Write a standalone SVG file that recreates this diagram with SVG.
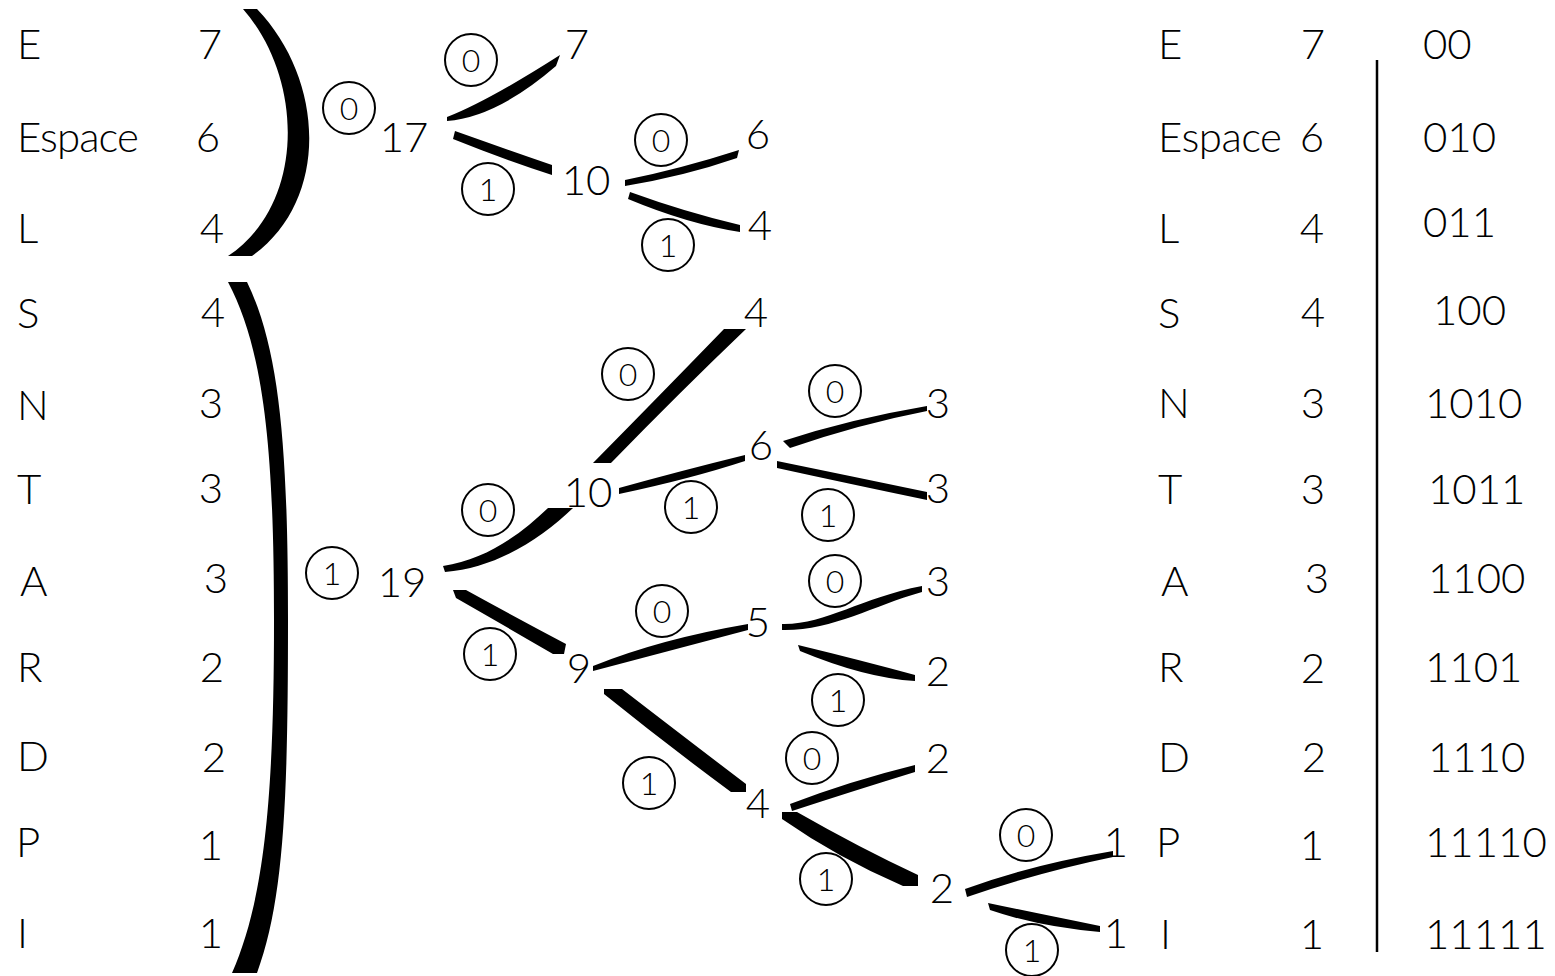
<svg xmlns="http://www.w3.org/2000/svg" width="1555" height="976" viewBox="0 0 1555 976">
  <style>
    text { font-family: "Lato", "Liberation Sans", sans-serif; font-weight: 300; fill: #000; }
    .t { font-size: 42px; }
    .n { font-size: 42px; text-anchor: middle; }
    .bit circle { fill: none; stroke: #000; stroke-width: 2; }
    .bit text { font-size: 32px; text-anchor: middle; }
    .edge { fill: #000; stroke: none; }
    .brace { fill: #000; }
  </style>

  <rect width="1555" height="976" fill="#fff"/>

  <!-- Frequency list on the left -->
  <g id="freq-list">
    <text class="t" x="17" y="59">E</text><text class="n" x="210" y="59">7</text>
    <text class="t" x="17" y="152" textLength="122">Espace</text><text class="n" x="208" y="152">6</text>
    <text class="t" x="17" y="243">L</text><text class="n" x="212" y="243">4</text>
    <text class="t" x="17" y="328">S</text><text class="n" x="213" y="327">4</text>
    <text class="t" x="17" y="420">N</text><text class="n" x="211" y="418">3</text>
    <text class="t" x="17" y="504">T</text><text class="n" x="211" y="503">3</text>
    <text class="t" x="20" y="596">A</text><text class="n" x="216" y="593">3</text>
    <text class="t" x="17" y="682">R</text><text class="n" x="212" y="682">2</text>
    <text class="t" x="17" y="771">D</text><text class="n" x="214" y="772">2</text>
    <text class="t" x="16" y="857">P</text><text class="n" x="211" y="860">1</text>
    <text class="t" x="17" y="948">I</text><text class="n" x="211" y="948">1</text>
  </g>

  <!-- Grouping braces -->
  <g id="brace-top">
    <path class="brace" d="M243,9 L257,9 C325,80 330,200 252,256 L228,256 C305,205 305,80 243,9 Z"/>
  </g>
  <g id="brace-bottom">
    <path class="brace" d="M228,282 L247,282 C280,350 288,450 288,620 C288,800 284,900 257,973 L232,973 C264,900 274,800 274,620 C274,450 264,350 228,282 Z"/>
  </g>

  <!-- Branches of the code tree -->
  <g id="connectors">
    <path class="edge" d="M447,117 Q488,101 560,55 L556,66 Q497,117 447,121 Z"/>
    <path class="edge" d="M455,131 Q500,147 552,165 L552,175 Q500,158 453,139 Z"/>
    <path class="edge" d="M625,180 Q680,169 739,150 L737,158 Q685,176 625,186 Z"/>
    <path class="edge" d="M630,192 Q685,212 740,225 L740,232 Q688,224 628,199 Z"/>
    <path class="edge" d="M443,566 C485,560 520,535 548,508 L573,508 C540,540 495,568 445,572 Z"/>
    <path class="edge" d="M453,590 L466,590 Q515,617 566,644 L564,654 L553,654 Q505,626 456,598 Z"/>
    <path class="edge" d="M593,463 Q660,395 724,329 L746,329 Q680,392 611,463 Z"/>
    <path class="edge" d="M619,488 Q680,471 745,455 L745,461 Q690,479 619,494 Z"/>
    <path class="edge" d="M783,441 Q850,419 927,406 L927,411 Q860,424 790,448 Z"/>
    <path class="edge" d="M777,461 Q850,476 927,492 L927,500 Q850,484 777,468 Z"/>
    <path class="edge" d="M593,666 Q660,639 748,624 L748,630 Q665,652 593,671 Z"/>
    <path class="edge" d="M604,689 L622,689 Q692,743 746,784 L746,792 L731,792 Q666,744 604,694 Z"/>
    <path class="edge" d="M782,624 C825,625 860,598 922,586 L922,592 C872,606 832,631 782,630 Z"/>
    <path class="edge" d="M798,645 Q860,660 915,675 L915,681 Q865,678 800,651 Z"/>
    <path class="edge" d="M790,804 Q850,781 915,765 L915,772 Q850,792 792,811 Z"/>
    <path class="edge" d="M782,812 L797,812 Q860,848 918,875 L918,886 L903,886 Q838,858 782,819 Z"/>
    <path class="edge" d="M965,889 Q1030,865 1113,851 L1113,857 Q1040,872 967,897 Z"/>
    <path class="edge" d="M988,903 Q1040,914 1100,926 L1100,932 Q1040,927 990,910 Z"/>
  </g>

  <!-- Tree nodes (weights) -->
  <g id="node-17"><text class="n" x="404" y="152">17</text></g>
  <g id="node-7"><text class="n" x="577" y="59">7</text></g>
  <g id="node-10a"><text class="n" x="586" y="195">10</text></g>
  <g id="node-6a"><text class="n" x="758" y="149">6</text></g>
  <g id="node-4a"><text class="n" x="760" y="240">4</text></g>
  <g id="node-19"><text class="n" x="402" y="597">19</text></g>
  <g id="node-10b"><text class="n" x="588" y="507">10</text></g>
  <g id="node-4b"><text class="n" x="756" y="327">4</text></g>
  <g id="node-6b"><text class="n" x="761" y="460">6</text></g>
  <g id="node-3a"><text class="n" x="938" y="418">3</text></g>
  <g id="node-3b"><text class="n" x="938" y="503">3</text></g>
  <g id="node-9"><text class="n" x="579" y="683">9</text></g>
  <g id="node-5"><text class="n" x="758" y="637">5</text></g>
  <g id="node-3c"><text class="n" x="938" y="596">3</text></g>
  <g id="node-2a"><text class="n" x="938" y="686">2</text></g>
  <g id="node-2b"><text class="n" x="938" y="773">2</text></g>
  <g id="node-4c"><text class="n" x="758" y="818">4</text></g>
  <g id="node-2c"><text class="n" x="942" y="903">2</text></g>
  <g id="node-1a"><text class="n" x="1116" y="857">1</text></g>
  <g id="node-1b"><text class="n" x="1116" y="948">1</text></g>

  <!-- Circled branch bits -->
  <g id="bit-17" class="bit"><circle cx="349" cy="108" r="26"/><text x="349" y="120">0</text></g>
  <g id="bit-17-0" class="bit"><circle cx="471" cy="60" r="26"/><text x="471" y="72">0</text></g>
  <g id="bit-17-1" class="bit"><circle cx="488" cy="189" r="26"/><text x="488" y="201">1</text></g>
  <g id="bit-10a-0" class="bit"><circle cx="661" cy="140" r="26"/><text x="661" y="152">0</text></g>
  <g id="bit-10a-1" class="bit"><circle cx="668" cy="245" r="26"/><text x="668" y="257">1</text></g>
  <g id="bit-19" class="bit"><circle cx="332" cy="573" r="26"/><text x="332" y="585">1</text></g>
  <g id="bit-19-0" class="bit"><circle cx="488" cy="510" r="26"/><text x="488" y="522">0</text></g>
  <g id="bit-19-1" class="bit"><circle cx="490" cy="654" r="26"/><text x="490" y="666">1</text></g>
  <g id="bit-10b-0" class="bit"><circle cx="628" cy="374" r="26"/><text x="628" y="386">0</text></g>
  <g id="bit-10b-1" class="bit"><circle cx="691" cy="507" r="26"/><text x="691" y="519">1</text></g>
  <g id="bit-6-0" class="bit"><circle cx="835" cy="391" r="26"/><text x="835" y="403">0</text></g>
  <g id="bit-6-1" class="bit"><circle cx="828" cy="515" r="26"/><text x="828" y="527">1</text></g>
  <g id="bit-9-0" class="bit"><circle cx="662" cy="611" r="26"/><text x="662" y="623">0</text></g>
  <g id="bit-9-1" class="bit"><circle cx="649" cy="783" r="26"/><text x="649" y="795">1</text></g>
  <g id="bit-5-0" class="bit"><circle cx="835" cy="581" r="26"/><text x="835" y="593">0</text></g>
  <g id="bit-5-1" class="bit"><circle cx="838" cy="700" r="26"/><text x="838" y="712">1</text></g>
  <g id="bit-4-0" class="bit"><circle cx="812" cy="758" r="26"/><text x="812" y="770">0</text></g>
  <g id="bit-4-1" class="bit"><circle cx="826" cy="879" r="26"/><text x="826" y="891">1</text></g>
  <g id="bit-2-0" class="bit"><circle cx="1026" cy="835" r="26"/><text x="1026" y="847">0</text></g>
  <g id="bit-2-1" class="bit"><circle cx="1032" cy="950" r="26"/><text x="1032" y="962">1</text></g>

  <!-- Resulting code table -->
  <g id="code-table">
    <line x1="1377" y1="60" x2="1377" y2="952" stroke="#000" stroke-width="2.5"/>
    <text class="t" x="1158" y="59">E</text><text class="n" x="1313" y="59">7</text><text class="t" x="1423" y="59">00</text>
    <text class="t" x="1158" y="152" textLength="124">Espace</text><text class="n" x="1312" y="152">6</text><text class="t" x="1423" y="152">010</text>
    <text class="t" x="1158" y="243">L</text><text class="n" x="1312" y="243">4</text><text class="t" x="1423" y="237">011</text>
    <text class="t" x="1158" y="328">S</text><text class="n" x="1313" y="327">4</text><text class="t" x="1433" y="325">100</text>
    <text class="t" x="1158" y="418">N</text><text class="n" x="1313" y="418">3</text><text class="t" x="1425" y="418">1010</text>
    <text class="t" x="1158" y="504">T</text><text class="n" x="1313" y="504">3</text><text class="t" x="1428" y="504">1011</text>
    <text class="t" x="1161" y="596">A</text><text class="n" x="1317" y="593">3</text><text class="t" x="1428" y="593">1100</text>
    <text class="t" x="1158" y="682">R</text><text class="n" x="1313" y="683">2</text><text class="t" x="1425" y="682">1101</text>
    <text class="t" x="1158" y="772">D</text><text class="n" x="1314" y="772">2</text><text class="t" x="1428" y="772">1110</text>
    <text class="t" x="1156" y="857">P</text><text class="n" x="1312" y="860">1</text><text class="t" x="1425" y="857">11110</text>
    <text class="t" x="1160" y="949">I</text><text class="n" x="1312" y="949">1</text><text class="t" x="1425" y="949">11111</text>
  </g>
</svg>
